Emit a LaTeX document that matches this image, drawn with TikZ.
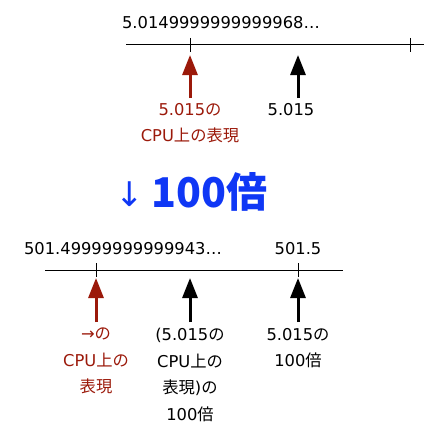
\documentclass[tikz,border=0pt]{standalone}
\usepackage{fontspec}
\setmainfont{DejaVu Sans}
\newfontfamily\jp{Noto Sans CJK JP}
\usetikzlibrary{arrows.meta}
\definecolor{cpured}{RGB}{155,25,10}
\definecolor{timesblue}{RGB}{15,55,245}
\tikzset{
	numaxis/.style={line width=1pt},
	tickmark/.style={line width=1pt},
	pointer/.style={line width=3pt,-{Triangle[width=15pt,length=20pt]}},
	lbl/.style={font=\fontsize{16.3}{26.5}\selectfont,align=center,inner sep=0pt,anchor=north},
	val/.style={font=\fontsize{16.3}{20}\selectfont,inner sep=0pt,anchor=base}
}
\newcommand{\no}{{\jp の}}
\begin{document}
\begin{tikzpicture}[x=1pt,y=-1pt]
	\useasboundingbox (0,0) rectangle (441,444);
	% upper axis
	\coordinate (ul) at (126,45); \coordinate (ur) at (424,45);
	\coordinate (ucpu) at (190,45); \coordinate (uend) at (410,45);
	\coordinate (uexact) at (298,45);
	\draw[numaxis] (ul) -- (ur);
	\foreach \t in {ucpu,uend}
		\draw[tickmark] ([yshift=7pt]\t) -- ([yshift=-7pt]\t);
	\node[val] (uval) at (221,29) {5.014{999}{999}{999}{99}68…};
	\node[lbl,cpured] (ucpulbl) at (190,103) {5.015\no\\CPU{\jp 上の表現}};
	\node[lbl] (uexactlbl) at (291,103) {5.015};
	\draw[pointer,cpured] ([yshift=5pt]ucpulbl.north) -- ([yshift=-10pt]ucpu);
	\draw[pointer] ([yshift=5pt]uexactlbl.north -| uexact) -- ([yshift=-10pt]uexact);
	% times 100
	\node[font=\fontsize{34}{40}\selectfont,text=timesblue,inner sep=0pt,anchor=base] (down) at (130,206) {↓};
	\node[font=\fontsize{41}{48}\selectfont\jp\bfseries,text=timesblue,inner sep=0pt,anchor=base west] (times) at (151,207) {100倍};
	% lower axis
	\coordinate (ll) at (45,270); \coordinate (lr) at (343,270);
	\coordinate (lcpu) at (96,270); \coordinate (lhalf) at (298,270);
	\coordinate (lmid) at (190,270);
	\draw[numaxis] (ll) -- (lr);
	\foreach \t in {lcpu,lhalf}
		\draw[tickmark] ([yshift=7pt]\t) -- ([yshift=-7pt]\t);
	\node[val] (lval) at (123,254) {501.4{999}{999}{999}{99}43…};
	\node[val] (lhalfval) at (298,254) {501.5};
	\node[lbl,cpured] (lcpulbl) at (96,328) {→\no\\CPU{\jp 上の}\\{\jp 表現}};
	\node[lbl] (lmidlbl) at (190,328) {(5.015\no\\CPU{\jp 上の}\\{\jp 表現})\no\\100{\jp 倍}};
	\node[lbl] (lhalflbl) at (298,328) {5.015\no\\100{\jp 倍}};
	\draw[pointer,cpured] ([yshift=6pt]lcpulbl.north) -- ([yshift=-8pt]lcpu);
	\draw[pointer] ([yshift=6pt]lmidlbl.north -| lmid) -- ([yshift=-8pt]lmid);
	\draw[pointer] ([yshift=6pt]lhalflbl.north) -- ([yshift=-8pt]lhalf);
\end{tikzpicture}
\end{document}
